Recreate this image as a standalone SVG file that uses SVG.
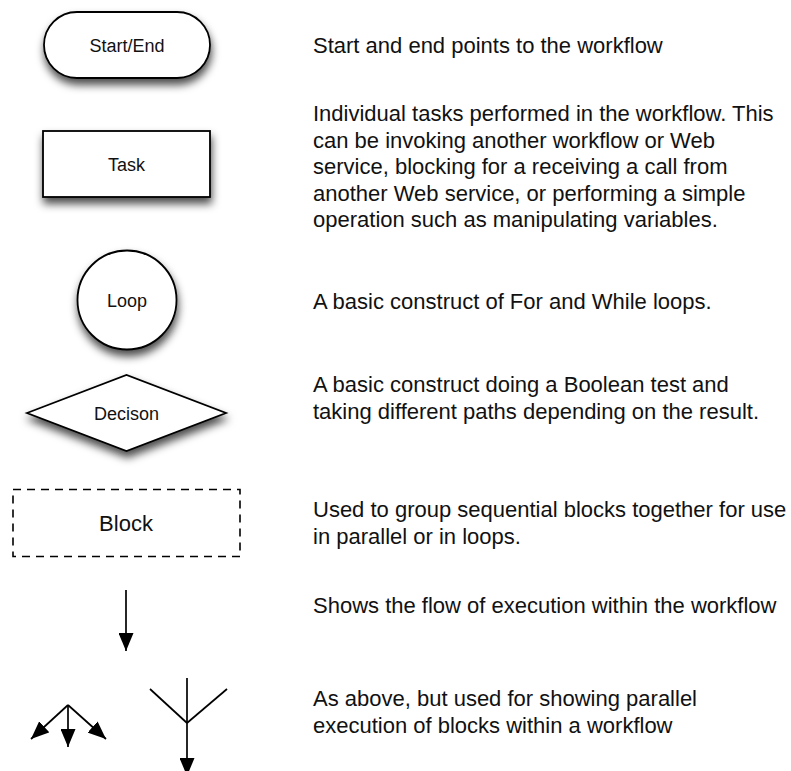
<svg xmlns="http://www.w3.org/2000/svg" width="791" height="771" viewBox="0 0 791 771">
  <defs>
    <filter id="shadow" x="-30%" y="-30%" width="160%" height="170%">
      <feDropShadow dx="1" dy="6" stdDeviation="4" flood-color="#000" flood-opacity="0.7"/>
    </filter>
    <marker id="head" viewBox="0 0 18 15" refX="18" refY="7.5" markerWidth="18" markerHeight="15" markerUnits="userSpaceOnUse" orient="auto">
      <path d="M0,0 L18,7.5 L0,15 Z" fill="#000"/>
    </marker>
  </defs>
  <style>
    .shape { fill: #fff; stroke: #000; stroke-width: 1.8; }
    .block { fill: none; stroke: #000; stroke-width: 1.6; stroke-dasharray: 8 6; }
    .label { font-family: "Liberation Sans", Arial, Helvetica, sans-serif; font-size: 18px; fill: #111; text-anchor: middle; }
    .big { font-size: 22px; }
    .desc { font-family: "Liberation Sans", Arial, Helvetica, sans-serif; font-size: 22px; fill: #111; }
    .conn { fill: none; stroke: #000; stroke-width: 1.7; }
  </style>

  <rect width="791" height="771" fill="#fff"/>

  <!-- legend symbols -->
  <g id="start-end">
    <rect class="shape" x="44" y="12" width="166" height="66" rx="33" ry="33" filter="url(#shadow)"/>
    <text class="label" x="127" y="52">Start/End</text>
  </g>

  <g id="task">
    <rect class="shape" x="43" y="131" width="167" height="66" filter="url(#shadow)"/>
    <text class="label" x="126.5" y="171">Task</text>
  </g>

  <g id="loop">
    <circle class="shape" cx="127" cy="300" r="49.5" filter="url(#shadow)"/>
    <text class="label" x="127" y="306.5">Loop</text>
  </g>

  <g id="decision">
    <polygon class="shape" points="27,413 126.5,375 226,413 126.5,451" filter="url(#shadow)"/>
    <text class="label" x="126.5" y="419.5">Decison</text>
  </g>

  <g id="block">
    <rect class="block" x="13" y="489.5" width="227" height="67"/>
    <text class="label big" x="126" y="530.5">Block</text>
  </g>

  <!-- flow connectors -->
  <g id="connectors">
    <line class="conn" x1="126" y1="590" x2="126" y2="651" marker-end="url(#head)"/>
    <!-- parallel split -->
    <line class="conn" x1="68" y1="705" x2="68" y2="747" marker-end="url(#head)"/>
    <line class="conn" x1="68" y1="705" x2="31" y2="739" marker-end="url(#head)"/>
    <line class="conn" x1="68" y1="705" x2="106" y2="739" marker-end="url(#head)"/>
    <!-- parallel join -->
    <line class="conn" x1="187" y1="678" x2="187" y2="723"/>
    <line class="conn" x1="150" y1="689" x2="187" y2="723"/>
    <line class="conn" x1="227" y1="689" x2="187" y2="723"/>
    <line class="conn" x1="187" y1="723" x2="187" y2="776" marker-end="url(#head)"/>
  </g>

  <!-- descriptions -->
  <g id="descriptions">
    <text class="desc" x="313" y="53">Start and end points to the workflow</text>
    <text class="desc" x="313" y="121">
      <tspan x="313" y="121">Individual tasks performed in the workflow. This</tspan>
      <tspan x="313" y="147.5">can be invoking another workflow or Web</tspan>
      <tspan x="313" y="174">service, blocking for a receiving a call from</tspan>
      <tspan x="313" y="200.5">another Web service, or performing a simple</tspan>
      <tspan x="313" y="227">operation such as manipulating variables.</tspan>
    </text>
    <text class="desc" x="313" y="309">A basic construct of For and While loops.</text>
    <text class="desc" x="313" y="392">
      <tspan x="313" y="392">A basic construct doing a Boolean test and</tspan>
      <tspan x="313" y="418.5">taking different paths depending on the result.</tspan>
    </text>
    <text class="desc" x="313" y="517">
      <tspan x="313" y="517">Used to group sequential blocks together for use</tspan>
      <tspan x="313" y="543.5">in parallel or in loops.</tspan>
    </text>
    <text class="desc" x="313" y="613">Shows the flow of execution within the workflow</text>
    <text class="desc" x="313" y="706">
      <tspan x="313" y="706">As above, but used for showing parallel</tspan>
      <tspan x="313" y="732.5">execution of blocks within a workflow</tspan>
    </text>
  </g>
</svg>
